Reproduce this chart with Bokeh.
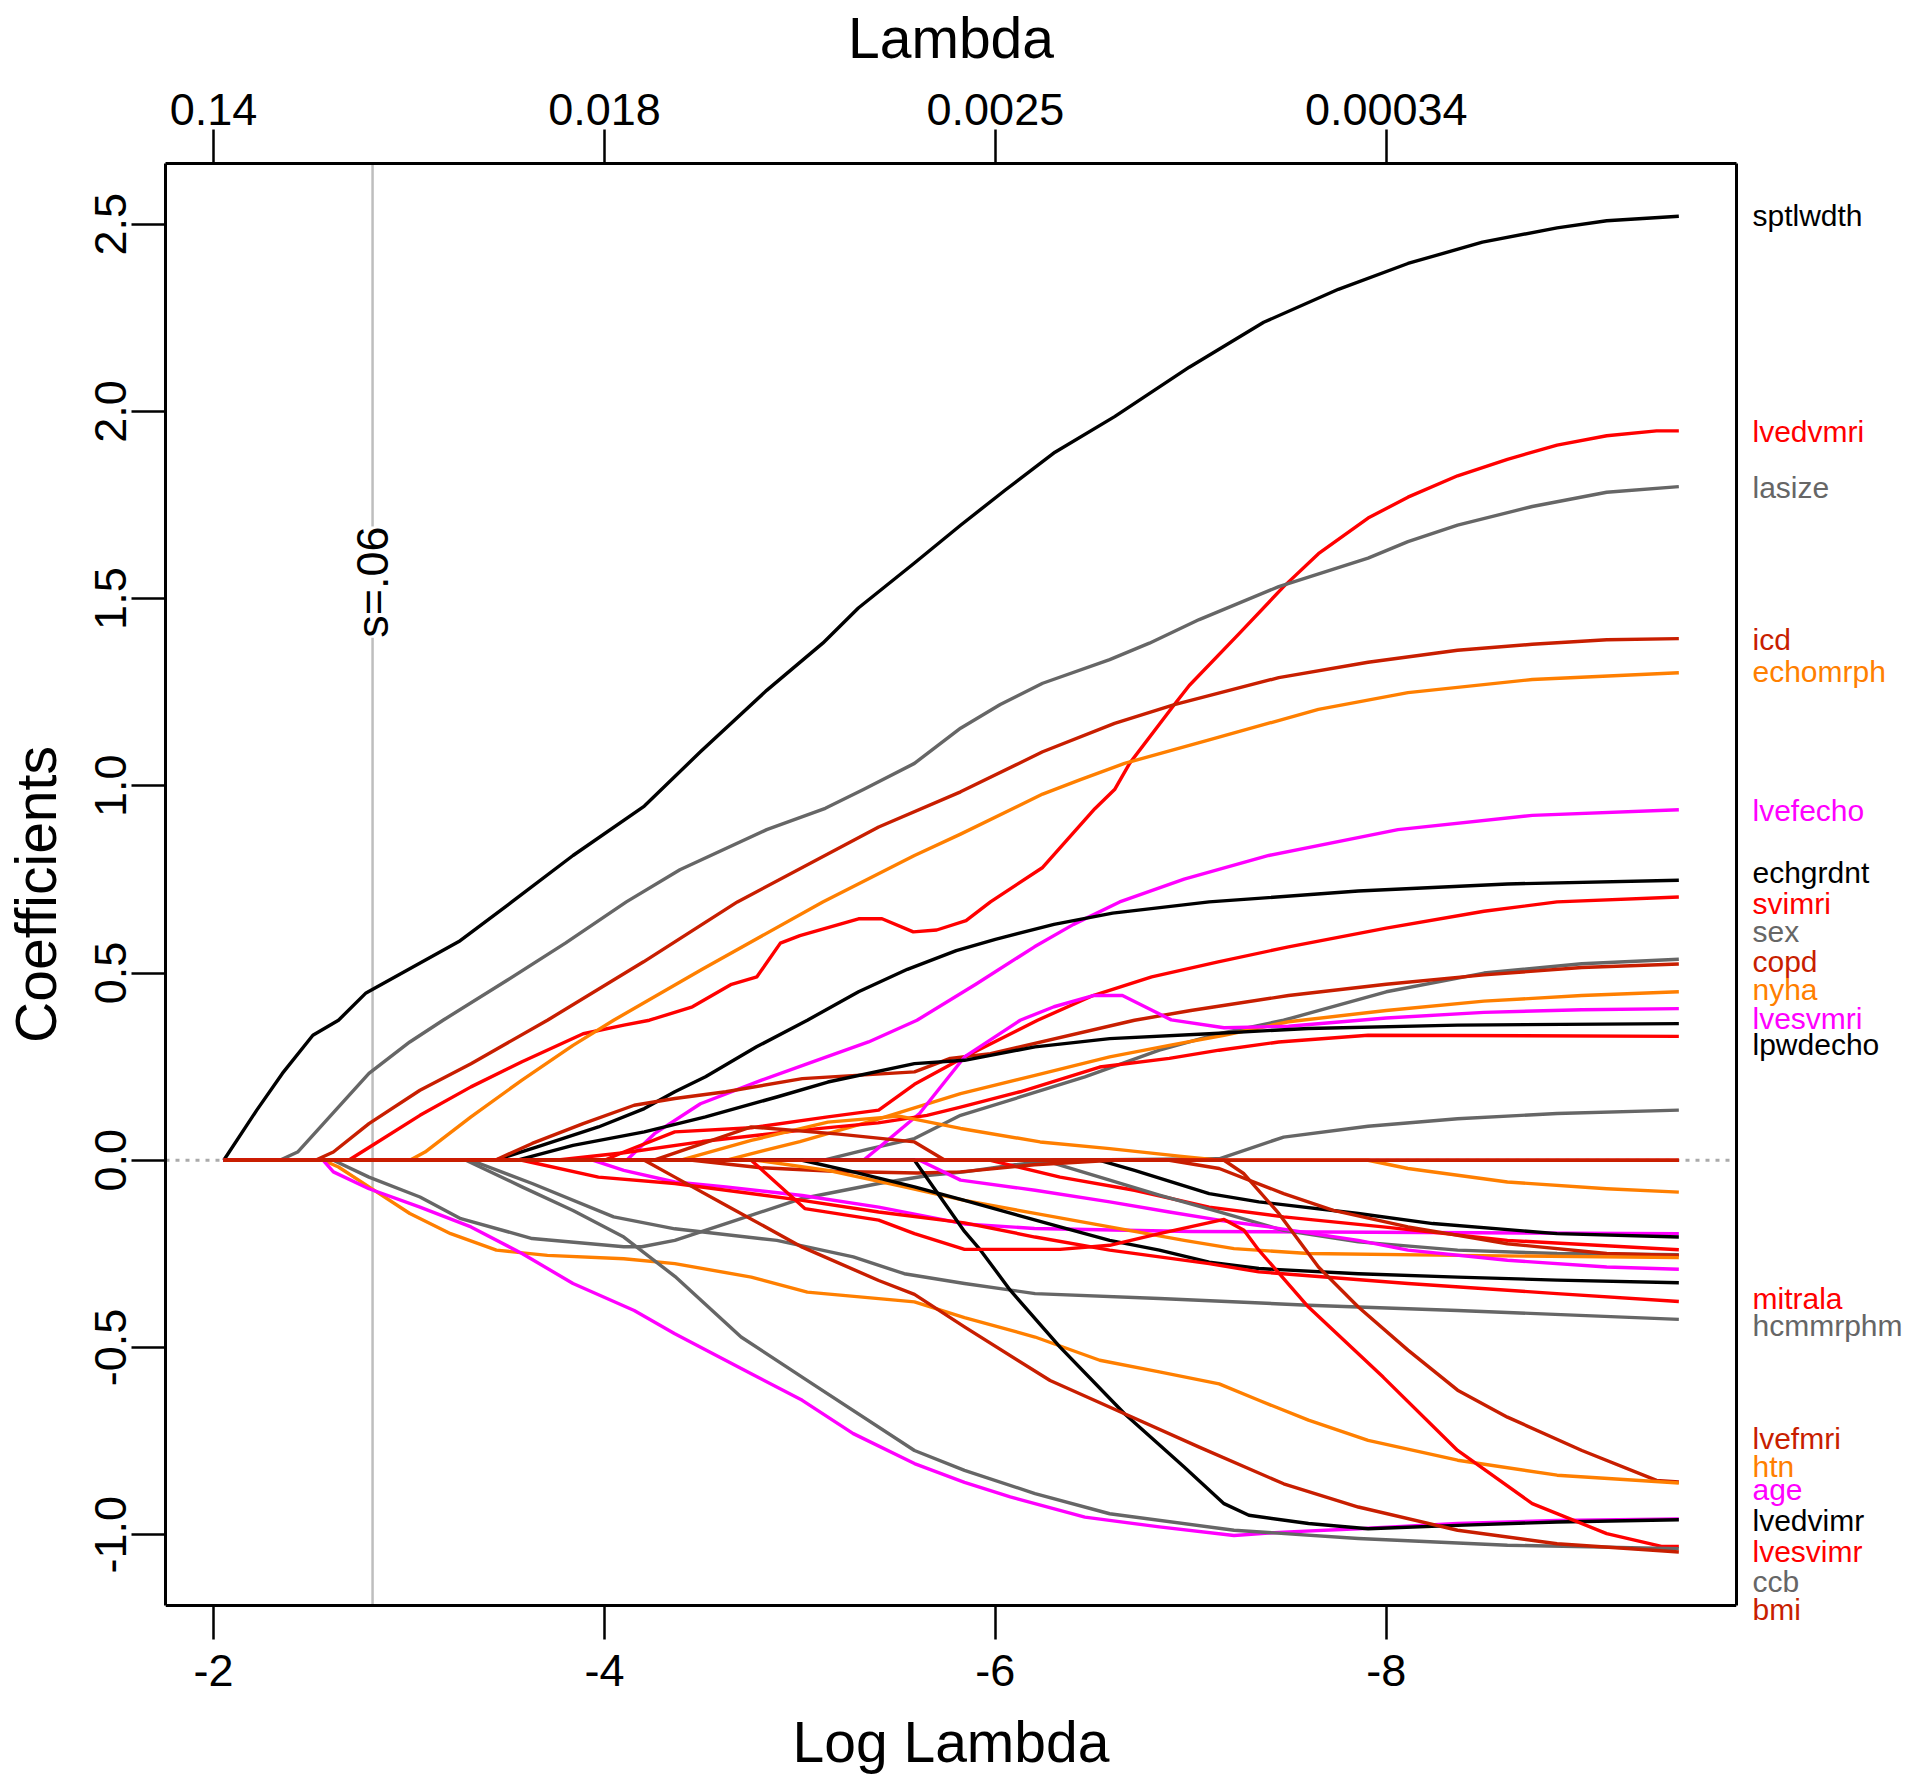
import numpy as np
from bokeh.plotting import figure
from bokeh.layouts import row
from bokeh.models import (Range1d, LinearAxis, FixedTicker, PrintfTickFormatter,
                          Span, Label, ColumnDataSource)
from bokeh.core.properties import value
from bokeh.embed import file_html
from bokeh.resources import INLINE

# ---------------- data (log lambda, coefficient) ----------------
sptlwdth_x = [-2.052, -2.221, -2.352, -2.508, -2.639, -2.78, -3.255, -3.526, -3.839, -4.204, -4.491, -4.830, -5.117, -5.299, -5.586, -5.822, -6.051, -6.305, -6.610, -6.992, -7.373, -7.755, -8.111, -8.492, -8.874, -9.128, -9.497]
sptlwdth_y = [0, 0.134, 0.232, 0.334, 0.374, 0.447, 0.584, 0.690, 0.814, 0.946, 1.091, 1.255, 1.381, 1.475, 1.595, 1.696, 1.790, 1.891, 1.986, 2.118, 2.238, 2.326, 2.395, 2.452, 2.490, 2.509, 2.521]

lasize_x = [-2.052, -2.339, -2.430, -2.795, -3.004, -3.174, -3.5, -3.8, -4.112, -4.386, -4.830, -5.130, -5.325, -5.586, -5.822, -6.025, -6.242, -6.585, -6.788, -7.043, -7.450, -7.907, -8.111, -8.365, -8.747, -9.128, -9.497]
lasize_y = [0, 0, 0.022, 0.232, 0.316, 0.374, 0.48, 0.58, 0.690, 0.776, 0.883, 0.940, 0.990, 1.060, 1.154, 1.217, 1.274, 1.337, 1.381, 1.444, 1.532, 1.608, 1.652, 1.696, 1.746, 1.784, 1.799]

lvedvmri_x = [-2.052, -2.691, -2.795, -3.056, -3.317, -3.578, -3.891, -4.099, -4.230, -4.45, -4.65, -4.78, -4.90, -5.0, -5.30, -5.42, -5.58, -5.70, -5.85, -5.975, -6.242, -6.509, -6.610, -6.687, -6.916, -6.992, -7.246, -7.475, -7.653, -7.907, -8.111, -8.365, -8.620, -8.874, -9.128, -9.383, -9.497]
lvedvmri_y = [0, 0, 0.034, 0.120, 0.196, 0.263, 0.338, 0.361, 0.374, 0.41, 0.47, 0.49, 0.58, 0.60, 0.645, 0.645, 0.61, 0.615, 0.64, 0.69, 0.782, 0.939, 0.990, 1.060, 1.217, 1.268, 1.406, 1.532, 1.620, 1.715, 1.771, 1.828, 1.872, 1.910, 1.935, 1.948, 1.948]

icd_x = [-2.052, -2.521, -2.613, -2.795, -3.056, -3.317, -3.708, -4.2, -4.68, -5.403, -5.822, -6.242, -6.610, -6.916, -7.450, -7.907, -8.365, -8.747, -9.128, -9.497]
icd_y = [0, 0, 0.022, 0.098, 0.187, 0.258, 0.374, 0.53, 0.69, 0.890, 0.984, 1.091, 1.167, 1.217, 1.289, 1.330, 1.362, 1.378, 1.390, 1.393]

echomrph_x = [-2.052, -3.004, -3.082, -3.317, -3.578, -3.839, -4.047, -4.5, -5.117, -5.586, -5.822, -6.242, -6.432, -6.661, -7.094, -7.653, -8.111, -8.747, -9.497]
echomrph_y = [0, 0, 0.022, 0.116, 0.214, 0.307, 0.374, 0.51, 0.690, 0.814, 0.871, 0.978, 1.016, 1.060, 1.123, 1.204, 1.249, 1.284, 1.302]

lvefecho_x = [-2.052, -4.113, -4.256, -4.491, -4.804, -5.065, -5.351, -5.599, -5.9, -6.2, -6.4, -6.636, -6.966, -7.399, -8.060, -8.747, -9.497]
lvefecho_y = [0, 0, 0.071, 0.151, 0.214, 0.263, 0.316, 0.374, 0.47, 0.57, 0.63, 0.690, 0.751, 0.814, 0.883, 0.921, 0.936]

echgrdnt_x = [-2.052, -3.44, -3.656, -3.969, -4.204, -4.360, -4.517, -4.778, -5.038, -5.3, -5.55, -5.8, -6.0, -6.3, -6.6, -7.094, -7.857, -8.620, -9.497]
echgrdnt_y = [0, 0, 0.036, 0.089, 0.138, 0.183, 0.223, 0.303, 0.374, 0.45, 0.51, 0.56, 0.59, 0.63, 0.66, 0.690, 0.719, 0.738, 0.748]

svimri_x = [-2.052, -4.0, -4.099, -4.360, -4.751, -5.143, -5.403, -5.586, -5.842, -6.216, -6.5, -6.8, -7.14, -7.5, -8.0, -8.5, -8.874, -9.497]
svimri_y = [0, 0, 0.022, 0.076, 0.087, 0.116, 0.134, 0.203, 0.276, 0.374, 0.44, 0.49, 0.53, 0.57, 0.62, 0.665, 0.69, 0.703]

sex_x = [-2.052, -5.117, -5.35, -5.586, -5.822, -6.127, -6.458, -6.839, -7.145, -7.475, -8.0, -8.5, -9.0, -9.497]
sex_y = [0, 0, 0.03, 0.058, 0.120, 0.169, 0.223, 0.294, 0.338, 0.374, 0.45, 0.50, 0.525, 0.537]

copd_x = [-2.052, -3.44, -3.630, -3.891, -4.152, -4.360, -4.621, -5.012, -5.586, -5.769, -5.975, -6.712, -7.0, -7.5, -8.0, -8.5, -9.0, -9.497]
copd_y = [0, 0, 0.045, 0.098, 0.147, 0.165, 0.183, 0.218, 0.236, 0.272, 0.285, 0.374, 0.40, 0.44, 0.47, 0.495, 0.515, 0.524]

nyha_x = [-2.052, -4.62, -5.0, -5.4, -5.822, -6.203, -6.585, -6.890, -7.170, -7.5, -8.0, -8.5, -9.0, -9.497]
nyha_y = [0, 0, 0.05, 0.11, 0.178, 0.227, 0.276, 0.307, 0.334, 0.37, 0.40, 0.425, 0.44, 0.45]

lvesvmri_x = [-2.052, -5.325, -5.43, -5.612, -5.842, -6.127, -6.3, -6.5, -6.65, -6.9, -7.17, -7.5, -8.0, -8.5, -9.0, -9.497]
lvesvmri_y = [0, 0, 0.045, 0.125, 0.276, 0.374, 0.41, 0.44, 0.44, 0.375, 0.354, 0.358, 0.38, 0.395, 0.402, 0.405]

lpwdecho_x = [-2.052, -3.55, -3.839, -4.204, -4.517, -4.882, -5.143, -5.586, -5.842, -6.203, -6.585, -7.094, -7.602, -8.365, -9.497]
lpwdecho_y = [0, 0, 0.040, 0.076, 0.116, 0.169, 0.209, 0.258, 0.267, 0.303, 0.325, 0.338, 0.352, 0.361, 0.365]

red14_x = [-2.052, -3.75, -4.1, -4.5, -5.0, -5.4, -5.65, -5.822, -6.127, -6.534, -6.890, -7.145, -7.450, -7.907, -9.497]
red14_y = [0, 0, 0.02, 0.05, 0.08, 0.10, 0.12, 0.142, 0.183, 0.249, 0.272, 0.294, 0.316, 0.334, 0.331]

grey15_x = [-2.052, -2.613, -2.795, -3.056, -3.265, -3.630, -4.099, -4.191, -4.360, -4.621, -5.012, -5.403, -5.664, -5.842, -6.1, -6.3, -7.145, -7.475, -7.907, -8.365, -8.874, -9.497]
grey15_y = [0, 0, -0.045, -0.098, -0.156, -0.209, -0.231, -0.231, -0.214, -0.169, -0.102, -0.062, -0.040, -0.031, -0.012, 0, 0.004, 0.062, 0.091, 0.111, 0.125, 0.134]

orange16_x = [-2.052, -4.386, -4.751, -5.143, -5.508, -5.822, -6.229, -6.585, -6.941, -7.145, -7.907, -8.111, -8.620, -9.128, -9.497]
orange16_y = [0, 0, 0.053, 0.102, 0.118, 0.085, 0.049, 0.031, 0.011, 0, 0, -0.022, -0.058, -0.076, -0.085]

magenta17_x = [-2.052, -3.943, -4.099, -4.360, -4.621, -5.012, -5.403, -5.842, -6.2, -7.0, -9.497]
magenta17_y = [0, 0, -0.027, -0.058, -0.071, -0.094, -0.125, -0.170, -0.182, -0.190, -0.196]

black18_x = [-2.052, -6.534, -6.712, -7.094, -7.348, -7.857, -8.238, -8.874, -9.497]
black18_y = [0, 0, -0.027, -0.089, -0.111, -0.142, -0.169, -0.196, -0.205]

red19_x = [-2.052, -5.975, -6.331, -6.712, -7.094, -7.475, -7.984, -8.620, -9.497]
red19_y = [0, 0, -0.045, -0.080, -0.125, -0.151, -0.178, -0.214, -0.239]

grey20_x = [-2.052, -6.25, -6.585, -6.839, -7.145, -7.475, -7.857, -8.365, -8.874, -9.497]
grey20_y = [0, 0, -0.053, -0.093, -0.138, -0.187, -0.218, -0.240, -0.249, -0.252]

dkred21_x = [-2.052, -4.45, -4.8, -5.2, -5.6, -5.822, -6.2, -6.6, -6.890, -7.145, -7.475, -7.729, -8.111, -8.620, -9.128, -9.497]
dkred21_y = [0, 0, -0.02, -0.03, -0.034, -0.031, -0.012, 0, 0, -0.022, -0.089, -0.134, -0.178, -0.223, -0.249, -0.254]

orange22_x = [-2.052, -4.777, -5.143, -5.534, -5.842, -6.203, -6.585, -6.966, -7.221, -7.602, -8.365, -9.497]
orange22_y = [0, 0, -0.027, -0.071, -0.107, -0.142, -0.178, -0.214, -0.236, -0.249, -0.254, -0.260]

magenta23_x = [-2.052, -5.612, -5.822, -6.203, -6.585, -6.890, -7.145, -7.399, -7.857, -8.111, -8.620, -9.128, -9.497]
magenta23_y = [0, 0, -0.053, -0.080, -0.111, -0.138, -0.160, -0.178, -0.214, -0.240, -0.267, -0.285, -0.291]

black24_x = [-2.052, -5.012, -5.273, -5.586, -5.842, -6.331, -6.585, -6.839, -7.094, -7.348, -7.857, -8.365, -8.874, -9.497]
black24_y = [0, 0, -0.031, -0.071, -0.107, -0.178, -0.214, -0.240, -0.272, -0.289, -0.303, -0.312, -0.320, -0.327]

mitrala_x = [-2.052, -3.578, -3.969, -4.360, -5.012, -5.403, -5.842, -6.203, -6.585, -7.094, -7.348, -8.111, -8.874, -9.497]
mitrala_y = [0, 0, -0.045, -0.062, -0.107, -0.138, -0.167, -0.205, -0.240, -0.276, -0.298, -0.329, -0.356, -0.377]

hcmmrphm_x = [-2.052, -3.317, -3.630, -4.047, -4.360, -4.882, -5.273, -5.534, -5.842, -6.203, -6.839, -7.602, -8.365, -9.497]
hcmmrphm_y = [0, 0, -0.062, -0.151, -0.183, -0.214, -0.258, -0.303, -0.329, -0.356, -0.369, -0.387, -0.401, -0.425]

lvefmri_x = [-2.052, -4.25, -4.751, -5.2, -5.586, -5.742, -7.17, -7.272, -7.450, -7.653, -7.857, -8.111, -8.365, -8.620, -9.001, -9.383, -9.497]
lvefmri_y = [0, 0, 0.089, 0.07, 0.049, 0, 0, -0.036, -0.142, -0.285, -0.392, -0.507, -0.614, -0.686, -0.775, -0.855, -0.859]

htn_x = [-2.052, -2.561, -2.639, -2.795, -3.004, -3.213, -3.447, -3.708, -4.099, -4.360, -4.751, -5.038, -5.586, -5.842, -6.203, -6.534, -6.839, -7.145, -7.348, -7.602, -7.907, -8.365, -8.874, -9.497]
htn_y = [0, 0, -0.018, -0.071, -0.142, -0.196, -0.240, -0.254, -0.263, -0.276, -0.312, -0.352, -0.378, -0.420, -0.472, -0.534, -0.565, -0.597, -0.641, -0.694, -0.748, -0.801, -0.841, -0.862]

age_x = [-2.052, -2.561, -2.613, -2.795, -3.056, -3.317, -3.578, -3.839, -4.152, -4.360, -4.751, -5.012, -5.273, -5.586, -5.842, -6.076, -6.458, -6.839, -7.221, -7.475, -7.857, -8.365, -8.874, -9.497]
age_y = [0, 0, -0.031, -0.076, -0.125, -0.178, -0.249, -0.329, -0.401, -0.463, -0.570, -0.641, -0.730, -0.810, -0.860, -0.899, -0.953, -0.979, -1.002, -0.993, -0.984, -0.970, -0.962, -0.958]

lvedvimr_x = [-2.052, -5.586, -5.842, -5.924, -6.076, -6.331, -6.661, -6.966, -7.170, -7.297, -7.602, -7.907, -8.365, -8.874, -9.497]
lvedvimr_y = [0, 0, -0.19, -0.240, -0.347, -0.499, -0.677, -0.819, -0.917, -0.948, -0.970, -0.984, -0.975, -0.966, -0.960]

lvesvimr_x = [-2.052, -4.751, -5.025, -5.403, -5.586, -5.842, -6.331, -6.585, -6.839, -7.170, -7.272, -7.348, -7.602, -7.984, -8.365, -8.747, -9.128, -9.408, -9.497]
lvesvimr_y = [0, 0, -0.129, -0.160, -0.196, -0.238, -0.238, -0.227, -0.196, -0.158, -0.187, -0.240, -0.392, -0.579, -0.775, -0.917, -0.997, -1.031, -1.031]

ccb_x = [-2.052, -3.291, -3.578, -3.839, -4.099, -4.360, -4.699, -5.064, -5.586, -5.842, -6.203, -6.585, -7.221, -7.857, -8.620, -9.497]
ccb_y = [0, 0, -0.071, -0.134, -0.205, -0.31, -0.472, -0.597, -0.775, -0.828, -0.890, -0.944, -0.988, -1.010, -1.028, -1.037]

bmi_x = [-2.052, -4.204, -4.360, -4.621, -5.012, -5.403, -5.586, -5.842, -6.280, -6.661, -7.043, -7.475, -7.857, -8.365, -8.874, -9.497]
bmi_y = [0, 0, -0.045, -0.120, -0.232, -0.321, -0.358, -0.445, -0.588, -0.677, -0.766, -0.864, -0.926, -0.988, -1.024, -1.046]

zero_x = [-2.052, -9.497]
zero_y = [0, 0]

# variable labels at the right margin (name, label position in coefficient units)
label_names = ["sptlwdth", "lvedvmri", "lasize", "icd", "echomrph", "lvefecho", "echgrdnt",
               "svimri", "sex", "copd", "nyha", "lvesvmri", "lpwdecho", "mitrala", "hcmmrphm",
               "lvefmri", "htn", "age", "lvedvimr", "lvesvimr", "ccb", "bmi"]
label_pos = [2.523, 1.947, 1.797, 1.391, 1.306, 0.935, 0.769, 0.687, 0.610, 0.532, 0.456,
             0.378, 0.310, -0.368, -0.440, -0.742, -0.817, -0.878, -0.963, -1.044, -1.125, -1.200]

x_ticks = [-2, -4, -6, -8]
y_ticks = [-1.0, -0.5, 0.0, 0.5, 1.0, 1.5, 2.0, 2.5]
s_lambda = 0.06

# ---------------- styling ----------------
BLACK = "#000000"; RED = "#FF0000"; GREY = "#666666"
DKRED = "#C81E00"; ORANGE = "#FF7F00"; MAGENTA = "#FF00FF"
FONT = "Liberation Sans"

series = [
    (sptlwdth_x, sptlwdth_y, BLACK), (lvedvmri_x, lvedvmri_y, RED), (lasize_x, lasize_y, GREY),
    (icd_x, icd_y, DKRED), (echomrph_x, echomrph_y, ORANGE), (lvefecho_x, lvefecho_y, MAGENTA),
    (echgrdnt_x, echgrdnt_y, BLACK), (svimri_x, svimri_y, RED), (sex_x, sex_y, GREY),
    (copd_x, copd_y, DKRED), (nyha_x, nyha_y, ORANGE), (lvesvmri_x, lvesvmri_y, MAGENTA),
    (lpwdecho_x, lpwdecho_y, BLACK), (red14_x, red14_y, RED), (grey15_x, grey15_y, GREY),
    (orange16_x, orange16_y, ORANGE), (magenta17_x, magenta17_y, MAGENTA),
    (black18_x, black18_y, BLACK), (red19_x, red19_y, RED), (grey20_x, grey20_y, GREY),
    (dkred21_x, dkred21_y, DKRED), (orange22_x, orange22_y, ORANGE),
    (magenta23_x, magenta23_y, MAGENTA), (black24_x, black24_y, BLACK),
    (mitrala_x, mitrala_y, RED), (hcmmrphm_x, hcmmrphm_y, GREY), (lvefmri_x, lvefmri_y, DKRED),
    (htn_x, htn_y, ORANGE), (age_x, age_y, MAGENTA), (lvedvimr_x, lvedvimr_y, BLACK),
    (lvesvimr_x, lvesvimr_y, RED), (ccb_x, ccb_y, GREY), (bmi_x, bmi_y, DKRED),
    (zero_x, zero_y, RED), (zero_x, zero_y, DKRED),
]
label_colors = ([BLACK, RED, GREY, DKRED, ORANGE, MAGENTA] * 4)[:len(label_names)]

# ---------------- layout ----------------
X0, X1 = -1.754, -9.792          # plot box, log-lambda
Y0, Y1 = -1.189, 2.662           # plot box, coefficients
H = 1782
BL, BT, BR = 164, 163, 4
FW, FH = 1572, 1442              # plot box size in px
EXT = 20                         # frame extends this far below the box (room for labels)
BB = H - BT - FH - EXT
W = BL + FW + BR
W2 = 1910 - W
px_y = FH / (Y1 - Y0)
YB = Y0 - EXT / px_y

p = figure(width=W, height=H, x_range=Range1d(X0, X1), y_range=Range1d(YB, Y1),
           output_backend="svg", toolbar_location=None,
           min_border_left=BL, min_border_right=BR, min_border_top=BT, min_border_bottom=BB,
           background_fill_color="white", border_fill_color="white")
p.xgrid.visible = False
p.ygrid.visible = False
p.outline_line_color = None


def style_axis(ax, ticks):
    ax.ticker = FixedTicker(ticks=ticks)
    ax.axis_line_color = "black"
    ax.axis_line_width = 3
    ax.major_tick_in = 0
    ax.major_tick_out = 34
    ax.major_tick_line_width = 2.5
    ax.major_tick_line_color = "black"
    ax.minor_tick_line_color = None
    ax.major_label_text_font = FONT
    ax.major_label_text_font_size = "45px"
    ax.major_label_text_color = "black"
    ax.axis_label_text_font = FONT
    ax.axis_label_text_font_size = "57px"
    ax.axis_label_text_font_style = "normal"
    ax.axis_label_text_color = "black"


xa = p.xaxis[0]
style_axis(xa, x_ticks)
xa.axis_line_color = None
xa.major_tick_in = EXT
xa.major_tick_out = 34 - EXT
xa.major_label_overrides = {t: str(t) for t in x_ticks}
xa.major_label_standoff = 15
xa.axis_label = "Log Lambda"
xa.axis_label_standoff = 21

ya = p.yaxis[0]
style_axis(ya, y_ticks)
ya.bounds = (Y0, Y1)
ya.formatter = PrintfTickFormatter(format="%.1f")
ya.major_label_orientation = "parallel"
ya.major_label_standoff = 5
ya.axis_label = "Coefficients"
ya.axis_label_standoff = 25

top = LinearAxis()
style_axis(top, x_ticks)
top.major_label_overrides = {t: f"{np.exp(t):.2g}" for t in x_ticks}
top.major_label_standoff = 5
top.axis_label = "Lambda"
top.axis_label_standoff = 21
p.add_layout(top, "above")

right = LinearAxis(ticker=FixedTicker(ticks=[]), bounds=(Y0, Y1))
right.axis_line_color = "black"
right.axis_line_width = 3
right.major_tick_out = 0
right.major_tick_in = 0
right.minor_tick_line_color = None
right.major_label_standoff = 0
p.add_layout(right, "right")

# bottom edge of the box
p.add_layout(Span(location=Y0, dimension="width", line_color="black", line_width=3))

# reference lines
p.add_layout(Span(location=0, dimension="width", line_color="#AAAAAA", line_width=3,
                  line_dash="4 6", level="underlay"))
p.segment(x0=[np.log(s_lambda)], y0=[Y0], x1=[np.log(s_lambda)], y1=[Y1],
          line_color="#BEBEBE", line_width=2.5)

for xs, ys, col in series:
    p.line(xs, ys, line_color=col, line_width=3.4, line_join="round")

p.add_layout(Label(x=np.log(s_lambda), y=1.544, text="s=.06", angle=np.pi / 2,
                   text_align="center", text_baseline="middle", text_font=FONT,
                   text_font_size="45px", text_color="black",
                   background_fill_color="white"))

# right-hand panel with the variable names, sharing the coefficient scale
p2 = figure(width=W2, height=H, x_range=Range1d(0, W2), y_range=Range1d(YB, Y1),
            output_backend="svg", toolbar_location=None,
            x_axis_type=None, y_axis_type=None,
            min_border_left=0, min_border_right=0, min_border_top=BT, min_border_bottom=BB,
            background_fill_color="white", border_fill_color="white")
p2.outline_line_color = None
p2.xgrid.visible = False
p2.ygrid.visible = False
lab_src = ColumnDataSource(dict(x=[12] * len(label_names), y=label_pos,
                                text=label_names, color=label_colors))
p2.text(x="x", y="y", text="text", source=lab_src, text_color="color",
        text_font=value(FONT), text_font_size="30px",
        text_align="left", text_baseline="middle")

open("out.html", "w").write(file_html(row(p, p2), INLINE))
